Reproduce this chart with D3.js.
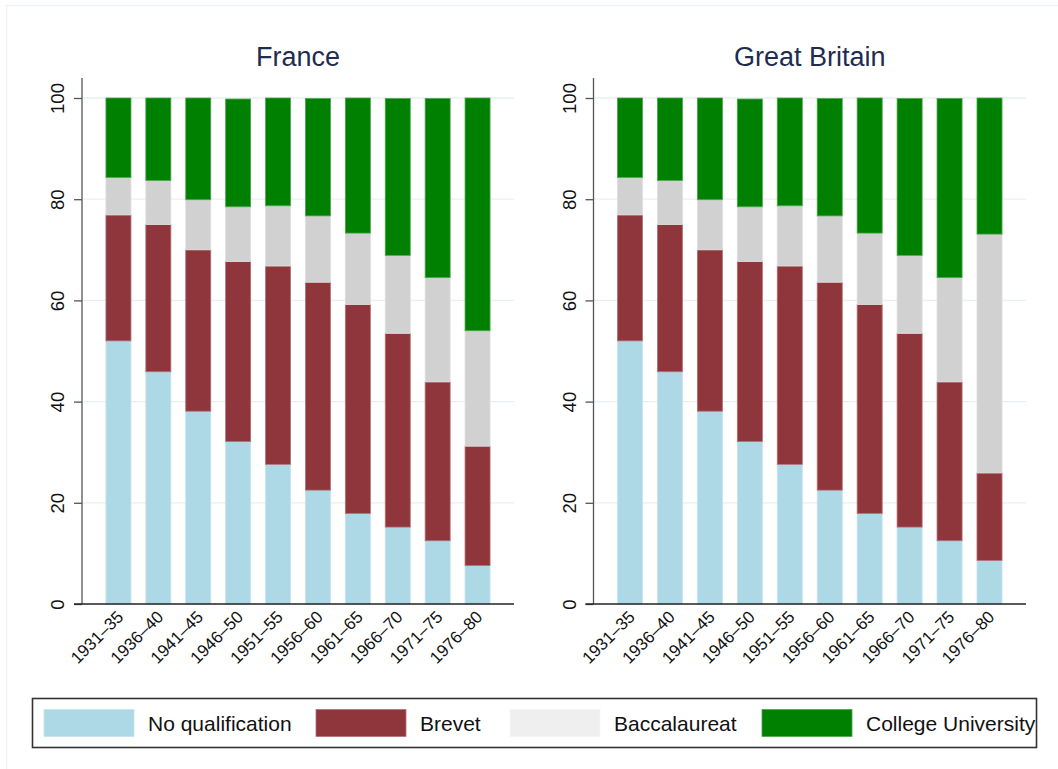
<!DOCTYPE html>
<html>
<head>
<meta charset="utf-8">
<script src="https://cdn.jsdelivr.net/npm/d3@7"></script>
<style>
  html, body { margin: 0; padding: 0; background: #ffffff; }
  svg { display: block; font-family: "Liberation Sans", Arial, Helvetica, sans-serif; }
</style>
</head>
<body>
<svg id="chart" width="1058" height="769"></svg>
<script>
// ---- data ----
const cohorts = ["1931–35", "1936–40", "1941–45", "1946–50", "1951–55", "1956–60", "1961–65", "1966–70", "1971–75", "1976–80"];
const seriesNames = ["No qualification", "Brevet", "Baccalaureat", "College University"];
const yTicks = [0, 20, 40, 60, 80, 100];

const franceNoQual  = [52.0, 45.9, 38.1, 32.1, 27.6, 22.5, 17.9, 15.2, 12.5, 7.6];
const franceBrevet  = [24.9, 29.1, 31.9, 35.6, 39.2, 41.1, 41.3, 38.3, 31.4, 23.6];
const franceBacc    = [7.4, 8.7, 9.9, 10.8, 11.9, 13.1, 14.1, 15.4, 20.6, 22.8];
const franceCollege = [15.7, 16.3, 20.1, 21.3, 21.3, 23.2, 26.7, 31.0, 35.4, 46.0];

const gbNoQual  = [52.0, 45.9, 38.1, 32.1, 27.6, 22.5, 17.9, 15.2, 12.5, 8.6];
const gbBrevet  = [24.9, 29.1, 31.9, 35.6, 39.2, 41.1, 41.3, 38.3, 31.4, 17.3];
const gbBacc    = [7.4, 8.7, 9.9, 10.8, 11.9, 13.1, 14.1, 15.4, 20.6, 47.2];
const gbCollege = [15.7, 16.3, 20.1, 21.3, 21.3, 23.2, 26.7, 31.0, 35.4, 26.9];

// ---- styles ----
const barColors = ["#add8e6", "#8f353c", "#d1d1d1", "#008000"];
const legendColors = ["#add8e6", "#8f353c", "#efefef", "#008000"];

const svg = d3.select("#chart");

// outer frame
svg.append("rect").attr("x", 6.5).attr("y", 5.5).attr("width", 1100).attr("height", 800)
  .attr("fill", "none").attr("stroke", "#eef2f5").attr("stroke-width", 1.5);

function buildRows(arrs) {
  return cohorts.map((c, i) => {
    const row = { cohort: c };
    seriesNames.forEach((s, k) => row[s] = arrs[k][i]);
    return row;
  });
}

function panel(title, arrs, xL, xR) {
  const yTop = 78, yBase = 604;
  const y = d3.scaleLinear().domain([0, 100]).range([604, 98]);
  const x = d3.scaleBand().domain(cohorts).range([xL, xR]).paddingInner(0.373).paddingOuter(0.6);
  const g = svg.append("g");

  // gridlines
  g.append("g").selectAll("line").data(yTicks.filter(t => t > 0)).join("line")
    .attr("x1", xL).attr("x2", xR)
    .attr("y1", d => y(d)).attr("y2", d => y(d))
    .attr("stroke", "#e8eff2").attr("stroke-width", 1.3);

  // stacked bars
  const rows = buildRows(arrs);
  const stacked = d3.stack().keys(seriesNames)(rows);
  g.append("g").selectAll("g").data(stacked).join("g")
    .attr("fill", (d, i) => barColors[i])
    .attr("stroke", (d, i) => d3.interpolateRgb(barColors[i], "#ffffff")(0.3))
    .attr("stroke-width", 0.8)
    .selectAll("rect").data(d => d).join("rect")
      .attr("x", d => x(d.data.cohort))
      .attr("width", x.bandwidth())
      .attr("y", d => y(d[1]))
      .attr("height", d => y(d[0]) - y(d[1]));

  // y axis
  const yAxis = g.append("g").attr("transform", `translate(${xL},0)`)
    .call(d3.axisLeft(y).tickValues(yTicks).tickSize(8).tickPadding(10));
  yAxis.select(".domain").remove();
  yAxis.append("line").attr("x1", 0).attr("x2", 0).attr("y1", yTop).attr("y2", yBase)
    .attr("stroke", "#555").attr("stroke-width", 1.3);
  yAxis.selectAll(".tick line").attr("stroke", "#555").attr("stroke-width", 1.3);
  yAxis.selectAll(".tick text")
    .attr("font-size", 18.5).attr("fill", "#111")
    .attr("font-family", "'Liberation Sans', Arial, sans-serif")
    .attr("text-anchor", "middle")
    .attr("x", null).attr("dy", null)
    .attr("transform", "translate(-18,0) rotate(-90)");

  // x axis
  const xAxis = g.append("g").attr("transform", `translate(0,${yBase})`)
    .call(d3.axisBottom(x).tickSize(0).tickPadding(0));
  xAxis.select(".domain").remove();
  xAxis.append("line").attr("x1", xL - 8).attr("x2", xR).attr("y1", 0).attr("y2", 0)
    .attr("stroke", "#222").attr("stroke-width", 1.3);
  xAxis.selectAll(".tick text")
    .attr("font-size", 17).attr("fill", "#111")
    .attr("font-family", "'Liberation Sans', Arial, sans-serif")
    .attr("text-anchor", "end")
    .attr("y", null).attr("dy", null)
    .attr("transform", "translate(6,14) rotate(-45)");

  // title
  g.append("text").attr("x", (xL + xR) / 2).attr("y", 66)
    .attr("text-anchor", "middle").attr("font-size", 27).attr("fill", "#1e2c50")
    .text(title);
}

panel("France", [franceNoQual, franceBrevet, franceBacc, franceCollege], 82, 514);
panel("Great Britain", [gbNoQual, gbBrevet, gbBacc, gbCollege], 593.5, 1026);

// legend
const legendX = [44, 316, 510, 762];
const lg = svg.append("g");
lg.append("rect").attr("x", 32.5).attr("y", 698.5).attr("width", 1004).attr("height", 49)
  .attr("fill", "#ffffff").attr("stroke", "#333").attr("stroke-width", 1.6);
seriesNames.forEach((s, i) => {
  lg.append("rect").attr("x", legendX[i]).attr("y", 709.5).attr("width", 90).attr("height", 27)
    .attr("fill", legendColors[i])
    .attr("stroke", d3.interpolateRgb(legendColors[i], "#ffffff")(0.3)).attr("stroke-width", 0.8);
  lg.append("text").attr("x", legendX[i] + 104).attr("y", 731)
    .attr("font-size", 21).attr("fill", "#111").text(s);
});
</script>
</body>
</html>
